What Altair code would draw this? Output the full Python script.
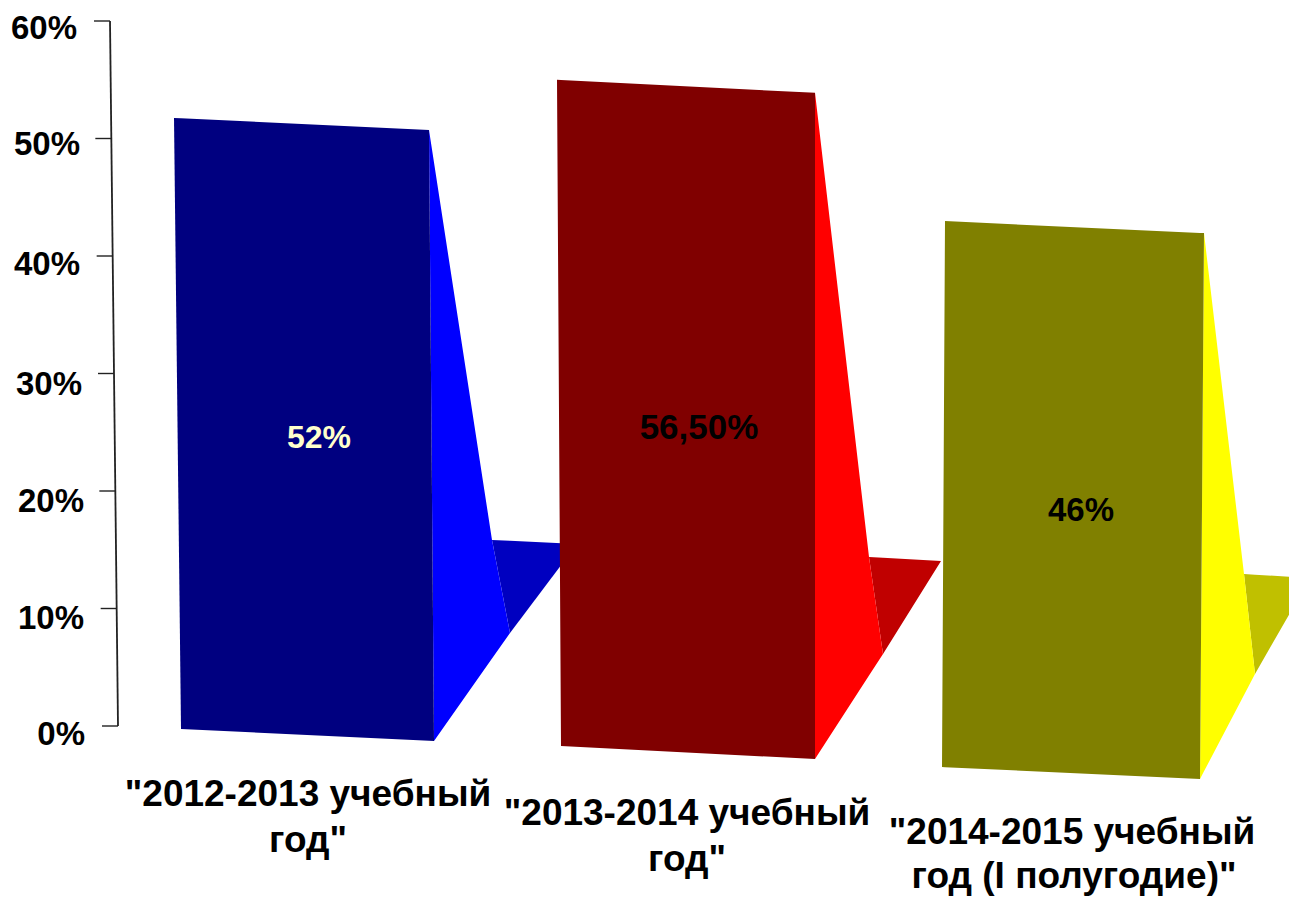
import altair as alt
import pandas as pd

# ---- data ----
VALUES = [52, 56.5, 46]
VALUE_LABELS = ["52%", "56,50%", "46%"]
VALUE_LABEL_COLORS = ["#FFFFCC", "#000000", "#000000"]
VALUE_LABEL_SIZES = [32, 35, 33]
CATEGORY_LINE_1 = ['"2012-2013 учебный', '"2013-2014 учебный', '"2014-2015 учебный']
CATEGORY_LINE_2 = ['год"', 'год"', 'год (I полугодие)"']
TICKS = [0, 10, 20, 30, 40, 50, 60]
TICK_LABELS = ["0%", "10%", "20%", "30%", "40%", "50%", "60%"]
FRONT_COLORS = ["#000080", "#800000", "#808000"]
SIDE_COLORS = ["#0000FF", "#FF0000", "#FFFF00"]
FLOOR_COLORS = ["#0000C0", "#C00000", "#C0C000"]

# ---- layout of the perspective drawing (page pixels) ----
W, H = 1281, 890
PAGE = 8
Y_ZERO = 726
PX_PER_PCT = 11.75
FONT = "Liberation Sans"

def pct(py):
    return (Y_ZERO - py) / PX_PER_PCT

BASE_LEFT = [(181, 729), (561, 746), (942, 767)]
BASE_RIGHT = [(434, 741), (815, 759), (1200, 779)]
TOP_LEFT_X = [174, 557, 945]
TOP_RIGHT_X = [429, 815, 1204]
PERSPECTIVE = [1.0, 1.0035, 1.01]
BACK_TOP = [(492, 540), (869, 557), (1244, 574)]
BACK_BOTTOM = [(510, 633), (883, 654), (1255, 674)]
FLOOR_TIP = [(577, 544), (941, 561), (1310, 578)]
VALUE_LABEL_POS = [(319, 438), (699, 428), (1081, 511)]
LINE_1_POS = [(308, 795), (687, 814), (1072, 833)]
LINE_2_POS = [(308, 841), (687, 860), (1074, 877)]
LABEL_RIGHT = [85, 84, 84, 82, 80, 80, 77]
TICK_TEXT_Y = [735, 619, 502, 385, 265, 145, 29]
AXIS_X_BOTTOM, AXIS_X_TOP = 118, 110

x_scale = alt.Scale(domain=[PAGE, PAGE + W], range=[0, W], nice=False, zero=False)
y_scale = alt.Scale(domain=[pct(PAGE + H), pct(PAGE)], range=[H, 0], nice=False, zero=False)
X = alt.X("x:Q", scale=x_scale, axis=None)
Y = alt.Y("y:Q", scale=y_scale, axis=None)
Y2 = alt.Y2("y2:Q")


def envelope(poly):
    """Convex polygon (x, value) -> records for an area mark."""
    rows = []
    n = len(poly)
    for x in sorted({p[0] for p in poly}):
        ys = []
        for i in range(n):
            (x0, y0), (x1, y1) = poly[i], poly[(i + 1) % n]
            if x0 == x1:
                if x == x0:
                    ys += [y0, y1]
            elif min(x0, x1) <= x <= max(x0, x1):
                ys.append(y0 + (y1 - y0) * (x - x0) / (x1 - x0))
        rows.append({"x": x, "y": min(ys), "y2": max(ys)})
    return pd.DataFrame(rows)


def face(poly, color):
    return (
        alt.Chart(envelope(poly))
        .mark_area(color=color, clip=True, interpolate="linear")
        .encode(x=X, y=Y, y2=Y2)
    )


layers = []

# axis line and ticks, on the slanted axis
axis_x = lambda t: AXIS_X_BOTTOM + (AXIS_X_TOP - AXIS_X_BOTTOM) * t / TICKS[-1]
layers.append(
    alt.Chart(pd.DataFrame({"x": [axis_x(t) for t in (0, 60)], "y": [0, 60]}))
    .mark_line(color="#222222", strokeWidth=1.8)
    .encode(x=X, y=Y)
)
layers.append(
    alt.Chart(pd.DataFrame({"x": [axis_x(t) - 16 for t in TICKS],
                            "x2": [axis_x(t) for t in TICKS], "y": TICKS}))
    .mark_rule(color="#222222", strokeWidth=1.4)
    .encode(x=X, x2="x2:Q", y=Y)
)
layers.append(
    alt.Chart(pd.DataFrame({"x": LABEL_RIGHT, "y": [pct(p) for p in TICK_TEXT_Y], "t": TICK_LABELS}))
    .mark_text(align="right", baseline="middle", font=FONT, fontWeight="bold", fontSize=33, color="#000000")
    .encode(x=X, y=Y, text="t:N")
)

# bars: each front face rises from its base by the value
for i, v in enumerate(VALUES):
    (lx, ly), (rx, ry) = BASE_LEFT[i], BASE_RIGHT[i]
    rise = v * PERSPECTIVE[i]
    top_l = (TOP_LEFT_X[i], pct(ly) + rise)
    top_r = (TOP_RIGHT_X[i], pct(ry) + rise)
    base_l = (lx, pct(ly))
    base_r = (rx, pct(ry))
    back_t = (BACK_TOP[i][0], pct(BACK_TOP[i][1]))
    back_b = (BACK_BOTTOM[i][0], pct(BACK_BOTTOM[i][1]))
    tip = (FLOOR_TIP[i][0], pct(FLOOR_TIP[i][1]))
    layers.append(face([back_t, tip, back_b], FLOOR_COLORS[i]))
    layers.append(face([top_r, back_t, back_b, base_r], SIDE_COLORS[i]))
    layers.append(face([top_l, top_r, base_r, base_l], FRONT_COLORS[i]))

# value labels
for i, t in enumerate(VALUE_LABELS):
    layers.append(
        alt.Chart(pd.DataFrame({"x": [VALUE_LABEL_POS[i][0]], "y": [pct(VALUE_LABEL_POS[i][1])], "t": [t]}))
        .mark_text(align="center", baseline="middle", font=FONT, fontWeight="bold",
                   fontSize=VALUE_LABEL_SIZES[i], color=VALUE_LABEL_COLORS[i])
        .encode(x=X, y=Y, text="t:N")
    )

# category labels
cat_rows = []
for i in range(len(VALUES)):
    cat_rows.append({"x": LINE_1_POS[i][0], "y": pct(LINE_1_POS[i][1]), "t": CATEGORY_LINE_1[i]})
    cat_rows.append({"x": LINE_2_POS[i][0], "y": pct(LINE_2_POS[i][1]), "t": CATEGORY_LINE_2[i]})
layers.append(
    alt.Chart(pd.DataFrame(cat_rows))
    .mark_text(align="center", baseline="middle", font=FONT, fontWeight="bold", fontSize=37, color="#000000")
    .encode(x=X, y=Y, text="t:N")
)

chart = (
    alt.layer(*layers)
    .properties(width=W, height=H, padding=0, autosize=alt.AutoSizeParams(type="none"),
                background="#FFFFFF")
    .configure_view(stroke=None)
)
chart.save("out.html", embed_options={"renderer": "svg", "actions": False})
